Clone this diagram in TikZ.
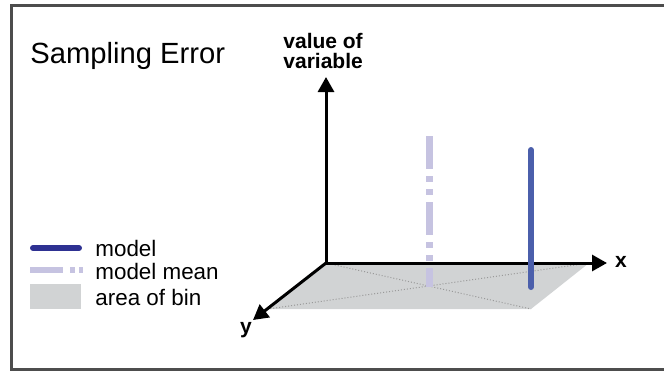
\documentclass[tikz,border=0pt]{standalone}
\usepackage{fontspec}
\setmainfont{Liberation Sans}
\usetikzlibrary{arrows.meta}

\definecolor{framegray}{HTML}{4D4D4D}
\definecolor{modelblue}{HTML}{4B5FAB}
\definecolor{modeldark}{HTML}{2E3192}
\definecolor{meanlilac}{HTML}{C6C3E1}
\definecolor{bingray}{HTML}{D1D3D4}

\begin{document}
\begin{tikzpicture}[
    x=0.5pt, y=-0.5pt,
    axis/.style={-{Triangle[length=7.5pt, width=8pt]}, line width=1.5pt, black},
    model_line/.style={line width=3pt, line cap=round, modelblue},
    mean_line/.style={line width=3.5pt, meanlilac,
        dash pattern=on 16.5pt off 3.5pt on 3pt off 3.5pt on 3pt off 3.5pt},
    diag/.style={densely dotted, line width=0.5pt, black!40},
    legend_txt/.style={anchor=west, inner sep=0pt, font=\fontsize{11.2}{13}\selectfont},
    axis_lbl/.style={inner sep=0pt, font=\fontsize{10.5}{10}\selectfont\bfseries}
]

\useasboundingbox (0,0) rectangle (664,371);
\draw[framegray, line width=1.5pt] (11,5) rectangle (672,369);

% title
\node[anchor=base west, inner sep=0pt, font=\fontsize{14.6}{16}\selectfont] (title) at (30,63) {Sampling Error};

% bin
\coordinate (o) at (326,263);
\coordinate (bin_r) at (589,263);
\coordinate (bin_fr) at (531,309);
\coordinate (bin_fl) at (268,309);
\fill[bingray] (o) -- (bin_r) -- (bin_fr) -- (bin_fl) -- cycle;
\draw[diag] (o) -- (bin_fr);
\draw[diag] (bin_r) -- (bin_fl);

% mean line
\coordinate (mean_top) at (429,136);
\coordinate (mean_bot) at (429,287);
\draw[mean_line] (mean_top) -- (mean_bot);

% axes
\coordinate (x_tip) at (607,263);
\coordinate (y_tip) at (253,320);
\coordinate (z_tip) at (326,77);
\draw[axis] (o) -- (x_tip);
\draw[axis] (o) -- (y_tip);
\draw[axis] (o) -- (z_tip);
\node[axis_lbl] (xlab) at (621,262) {x};
\node[axis_lbl, anchor=base] (ylab) at (246,333) {y};
\node[axis_lbl, anchor=north west, align=left] (vlab) at (283,33) {value of\\variable};

% model line
\coordinate (model_top) at (531,150);
\coordinate (model_bot) at (531,287);
\draw[model_line] (model_top) -- (model_bot);

% legend
\coordinate (leg_m1) at (33,248);
\coordinate (leg_m2) at (79,248);
\draw[model_line, modeldark] (leg_m1) -- (leg_m2);
\coordinate (leg_a1) at (30,270);
\coordinate (leg_a2) at (83,270);
\draw[mean_line, line width=3pt, dash pattern=on 16.5pt off 3.5pt on 2.5pt off 2pt on 2pt] (leg_a1) -- (leg_a2);
\fill[bingray] (30,284) rectangle (81,309);
\node[legend_txt] (leg_model) at (95,248) {model};
\node[legend_txt] (leg_mean) at (95,271) {model mean};
\node[legend_txt] (leg_bin) at (95,297) {area of bin};

\end{tikzpicture}
\end{document}
